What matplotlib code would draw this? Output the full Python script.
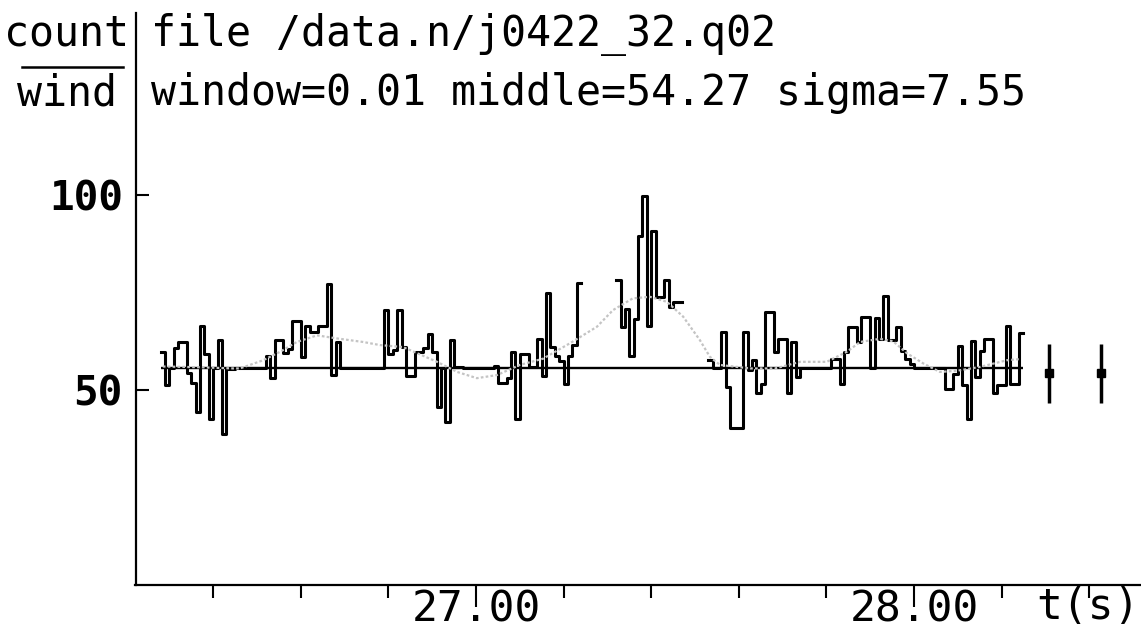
import numpy as np
import matplotlib
matplotlib.use("Agg")
import matplotlib.pyplot as plt
from matplotlib.lines import Line2D

# binned light curve, window = 0.01 s, starting at t_start
t_start = 26.28
bin_width = 0.01
counts = [
    59.7, 51.2, 55.5, 60.8, 62.3, 62.3, 54.2, 51.7, 44.3, 66.5,
    59.3, 42.4, 55.5, 62.7, 38.6, 55.4, 55.4, 55.5, 55.5, 55.5,
    55.5, 55.5, 55.5, 55.5, 58.8, 53.0, 62.7, 62.7, 59.4, 60.5,
    67.8, 67.8, 58.5, 66.5, 64.8, 64.8, 66.5, 66.5, 77.2, 53.7,
    62.3, 55.5, 55.5, 55.5, 55.5, 55.5, 55.5, 55.5, 55.5, 55.5,
    55.5, 70.6, 59.3, 60.3, 70.6, 61.0, 53.5, 53.5, 59.7, 59.7,
    60.8, 64.4, 59.7, 45.6, 55.5, 41.7, 62.9, 55.8, 55.8, 55.5,
    55.5, 55.5, 55.5, 55.5, 55.5, 55.5, 56.0, 51.7, 51.7, 53.0,
    59.7, 42.6, 59.3, 59.3, 55.8, 55.8, 63.1, 53.5, 74.8, 61.0,
    58.8, 57.5, 51.6, 58.8, 61.4, 77.4, np.nan, np.nan, np.nan, np.nan,
    np.nan, np.nan, np.nan, np.nan, 78.1, 66.1, 70.8, 58.8, 68.3, 89.6,
    99.9, 66.5, 90.9, 73.8, 73.8, 78.1, 71.2, 72.5, 72.5, np.nan,
    np.nan, np.nan, np.nan, np.nan, np.nan, 57.7, 55.5, 55.5, 64.8, 50.7,
    40.1, 40.1, 40.1, 64.8, 55.2, 57.6, 49.2, 51.6, 70.0, 70.0,
    59.7, 63.1, 63.1, 49.2, 62.3, 53.3, 55.5, 55.5, 55.5, 55.5,
    55.5, 55.5, 55.5, 58.0, 58.0, 51.6, 59.7, 66.1, 66.1, 62.3,
    68.8, 68.8, 55.5, 68.5, 63.1, 74.2, 62.7, 62.7, 66.1, 60.1,
    58.0, 56.7, 55.5, 55.5, 55.5, 55.5, 55.5, 55.5, 55.5, 50.3,
    50.3, 54.1, 61.2, 51.2, 42.6, 62.5, 53.3, 59.9, 63.1, 63.1,
    49.2, 51.2, 51.2, 66.3, 51.6, 51.6, 64.6,
]
level = 55.5

# smoothed curve (grey)
smooth_t = [26.285, 26.370, 26.447, 26.461, 26.514, 26.553, 26.591, 26.637,
            26.683, 26.742, 26.781, 26.833, 26.911, 26.957, 27.002, 27.048,
            27.100, 27.153, 27.215, 27.276, 27.313, 27.358, 27.397, 27.436,
            27.473, 27.511, 27.534, 27.557, 27.626, 27.683, 27.740, 27.801,
            27.847, 27.877, 27.922, 27.952, 27.984, 28.021, 28.059, 28.098,
            28.151, 28.212, 28.242]
smooth_counts = [56.0, 55.8, 55.5, 55.5, 57.6, 59.8, 62.3, 64.0,
                 63.2, 62.3, 61.5, 61.0, 57.2, 54.6, 53.0, 53.8,
                 56.4, 58.0, 62.0, 66.2, 70.5, 73.5, 73.9, 72.6,
                 68.8, 62.8, 58.5, 56.4, 55.5, 55.5, 57.2, 57.2,
                 59.8, 62.3, 63.1, 62.5, 59.4, 56.8, 54.6, 54.9,
                 55.9, 57.6, 57.9]

# middle +- sigma markers
point_t = [28.309, 28.426]
point_counts = [54.27, 54.27]
point_err = [7.55, 7.55]

major_ticks = [27.0, 28.0]
major_labels = ["27.00", "28.00"]
minor_ticks = [26.4, 26.6, 26.8, 27.2, 27.4, 27.6, 27.8, 28.2, 28.4]
ytick_vals = [50, 100]
ytick_labels = ["50", "100"]

mono = "DejaVu Sans Mono"
W, H = 1141, 629

fig = plt.figure(figsize=(W / 100, H / 100), dpi=100)
ax = fig.add_axes([135.5 / W, 1 - 584.5 / H, 1 - 135.5 / W, (584.5 - 13) / H])

edges = t_start + bin_width * np.arange(len(counts) + 1)
ax.hlines(level, edges[0], edges[-1], color="k", lw=1.7, zorder=1)
ax.step(edges, counts + [counts[-1]], where="post", color="k", lw=2.2, zorder=2)
ax.plot(smooth_t, smooth_counts, color="#c4c4c4", lw=1.6, ls=(0, (1.2, 1)), zorder=3)
ax.errorbar(point_t, point_counts, yerr=point_err, fmt="s", color="k",
            ms=6, elinewidth=2.5, capsize=0, zorder=4)

ax.set_xlim(26.2226, 28.5183)
ax.set_ylim(0, 146.8)
for s in ["top", "right"]:
    ax.spines[s].set_visible(False)
for s in ["left", "bottom"]:
    ax.spines[s].set_linewidth(1.6)

ax.set_xticks(major_ticks)
ax.set_xticklabels(major_labels, fontsize=31, family=mono)
ax.set_xticks(minor_ticks, minor=True)
ax.tick_params(axis="x", which="major", direction="out", length=15.8, width=1.5, pad=-13.2)
ax.tick_params(axis="x", which="minor", direction="out", length=9.4, width=1.5)
ax.set_yticks(ytick_vals)
ax.set_yticklabels(ytick_labels, fontsize=29.5, family=mono, fontweight="bold")
ax.tick_params(axis="y", direction="in", length=9, width=1.5, pad=9.2)

fig.text(1140 / W, 1 - 586 / H, "t(s)", fontsize=31, family=mono, va="top", ha="right")

# header
fig.text(151 / W, 1 - 45.5 / H, "file /data.n/j0422_32.q02", fontsize=30, family=mono, va="baseline")
fig.text(151 / W, 1 - 105 / H, "window=0.01 middle=54.27 sigma=7.55", fontsize=30, family=mono, va="baseline")
fig.text(4 / W, 1 - 45.5 / H, "count", fontsize=30, family=mono, va="baseline")
fig.text(17 / W, 1 - 105 / H, "wind", fontsize=30, family=mono, va="baseline")
fig.add_artist(Line2D([22 / W, 123 / W], [1 - 67 / H, 1 - 67 / H], transform=fig.transFigure, color="k", lw=1.8))

fig.savefig("out.png", dpi=100)
